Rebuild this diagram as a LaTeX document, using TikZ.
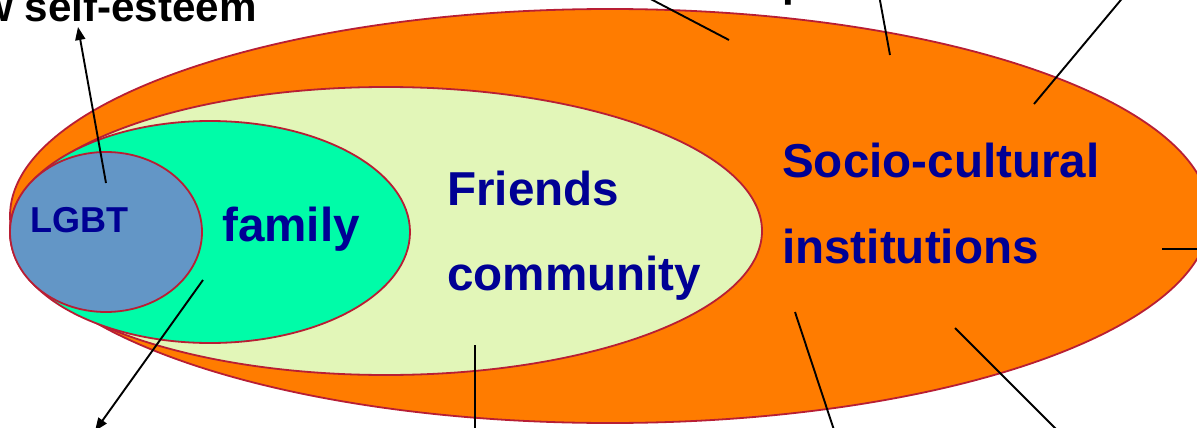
\documentclass[tikz,border=0pt]{standalone}
\usepackage{fontspec}
\setmainfont{Liberation Sans}
\usetikzlibrary{shapes.geometric,arrows.meta}
\definecolor{orng}{HTML}{FF7C00}
\definecolor{rim}{HTML}{B81E34}
\definecolor{pale}{HTML}{E2F6B8}
\definecolor{mint}{HTML}{00FCA8}
\definecolor{steel}{HTML}{6396C6}
\definecolor{ink}{HTML}{000094}
\begin{document}
\begin{tikzpicture}[x=1pt,y=-1pt,
  zone/.style={ellipse, draw=rim, line width=1.8pt, inner sep=0pt},
  lbl/.style={font=\fontsize{47.6}{57}\selectfont\bfseries, text=ink, inner sep=0pt, anchor=base west},
  small/.style={font=\fontsize{36}{43}\selectfont\bfseries, text=ink, inner sep=0pt, anchor=base west},
  outer/.style={font=\fontsize{42.2}{50}\selectfont\bfseries, text=black, inner sep=0pt},
  lead/.style={line width=1.9pt, draw=black},
  arr/.style={lead, -{Triangle[length=13pt,width=10pt]}}]
\useasboundingbox (0,0) rectangle (1197,428);
% zones
\node[zone, fill=orng, minimum width=1200pt, minimum height=414pt] (socio) at (610,216) {};
\node[zone, fill=pale, minimum width=752pt, minimum height=288pt] (friends) at (386,231) {};
\node[zone, fill=mint, minimum width=400pt, minimum height=222pt] (family) at (210,232) {};
\node[zone, fill=steel, minimum width=192pt, minimum height=160pt] (lgbt) at (106,232) {};
% labels
\node[small] (tlgbt) at (30,232) {LGBT};
\node[lbl] (tfamily) at (222,241) {family};
\node[lbl] (tfriends) at (447,205) {Friends};
\node[lbl] (tcomm) at (447,290) {community};
\node[lbl] (tsocio) at (782,177) {Socio-cultural};
\node[lbl] (tinst) at (782,263) {institutions};
% outside labels (cropped by the picture edge)
\node[outer, anchor=base east] (esteem) at (257,22) {Low self-esteem};
\node[outer, anchor=base west] (frag) at (782,-3) {p};
% connector ends
\coordinate (a1s) at (106,183);
\coordinate (a1e) at (78,27);
\coordinate (a2s) at (203,280);
\coordinate (a2e) at (95,431);
\coordinate (l1s) at (729,40);
\coordinate (l1e) at (643,-5);
\coordinate (l2s) at (890,55);
\coordinate (l2e) at (879,-5);
\coordinate (l3s) at (1034,104);
\coordinate (l3e) at (1125,-5);
\coordinate (l4s) at (1162,249);
\coordinate (l4e) at (1202,249);
\coordinate (l5s) at (795,312);
\coordinate (l5e) at (835,433);
\coordinate (l6s) at (955,328);
\coordinate (l6e) at (1060,433);
\coordinate (l7s) at (475,345);
\coordinate (l7e) at (475,433);
% connectors
\draw[arr] (a1s) -- (a1e);
\draw[arr] (a2s) -- (a2e);
\draw[lead] (l1s) -- (l1e);
\draw[lead] (l2s) -- (l2e);
\draw[lead] (l3s) -- (l3e);
\draw[lead] (l4s) -- (l4e);
\draw[lead] (l5s) -- (l5e);
\draw[lead] (l6s) -- (l6e);
\draw[lead] (l7s) -- (l7e);
\end{tikzpicture}
\end{document}
